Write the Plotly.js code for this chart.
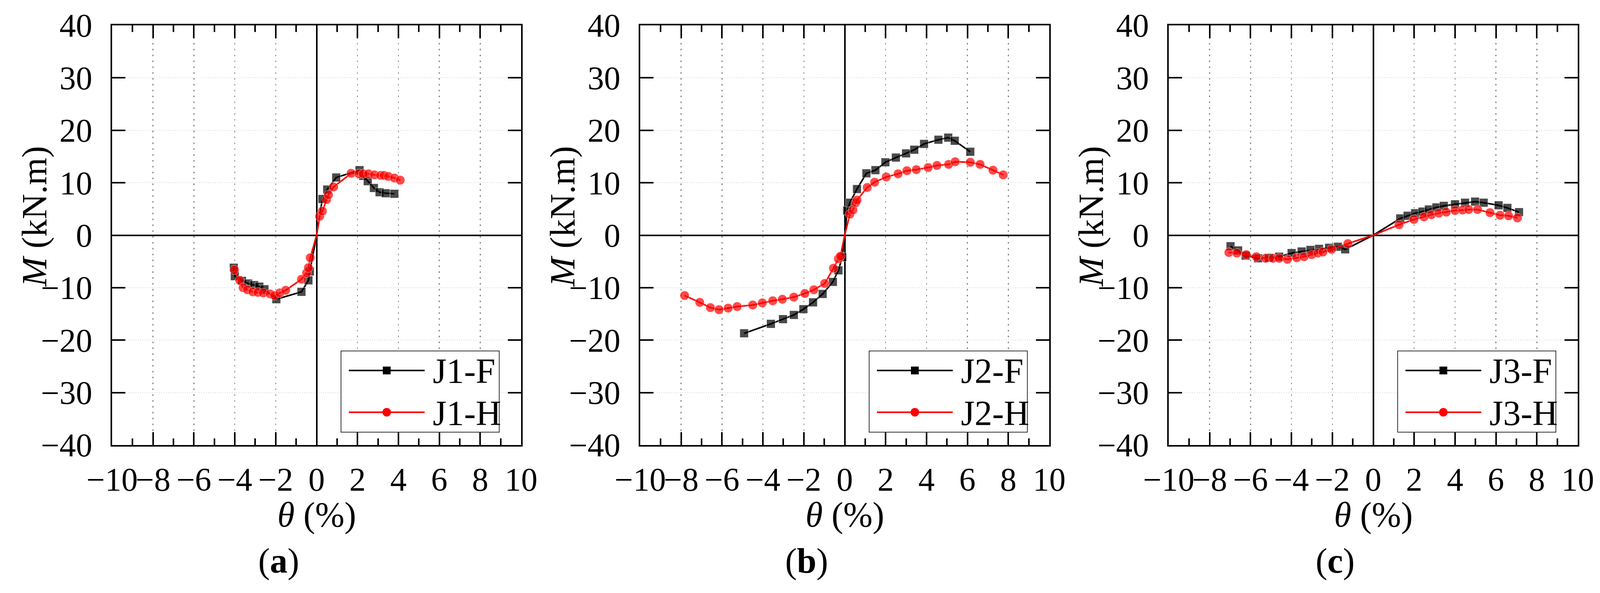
<!DOCTYPE html>
<html>
<head>
<meta charset="utf-8">
<script src="https://cdn.plot.ly/plotly-3.0.1.min.js"></script>
<style>
  html, body { margin: 0; padding: 0; background: #fff; }
  #chart { width: 4129px; height: 1519px; }
</style>
</head>
<body>
<div id="chart"></div>
<script>
// skeleton curves, theta in %, M in kN.m
var j1fTheta = [-4.05, -4.0, -3.65, -3.35, -3.05, -2.8, -2.55, -1.97, -0.74, -0.4, -0.33, 0, 0.28, 0.52, 0.96, 2.1, 2.28, 2.5, 2.8, 3.08, 3.38, 3.8];
var j1fM     = [-6.2, -7.8, -8.7, -9.2, -9.5, -9.8, -10.3, -12.2, -10.8, -8.6, -6.9, 0, 6.9, 8.7, 11.0, 12.4, 11.3, 10.3, 9.0, 8.2, 8.0, 7.9];

var j1hTheta = [-4.02, -3.76, -3.59, -3.38, -3.12, -2.87, -2.61, -2.27, -2.06, -1.8, -1.51, -0.74, -0.49, -0.4, -0.31, 0, 0.15, 0.28, 0.49, 0.58, 0.83, 1.69, 2.07, 2.28, 2.54, 2.83, 3.13, 3.3, 3.51, 3.81, 4.09];
var j1hM     = [-6.6, -8.6, -10.0, -10.4, -10.8, -10.9, -11.0, -11.2, -11.5, -11.0, -10.5, -8.4, -7.2, -6.2, -4.3, 0, 3.6, 4.6, 6.8, 7.7, 9.2, 11.8, 11.7, 11.7, 11.7, 11.5, 11.4, 11.4, 11.2, 10.9, 10.5];

var j2fTheta = [-4.92, -3.61, -3.02, -2.49, -2.02, -1.55, -1.08, -0.58, -0.31, -0.12, 0, 0.12, 0.25, 0.6, 1.06, 1.5, 1.99, 2.5, 3.0, 3.4, 3.88, 4.58, 5.06, 5.38, 6.14];
var j2fM     = [-18.7, -16.9, -16.0, -15.2, -14.1, -12.8, -11.2, -8.9, -6.7, -4.2, 0, 4.7, 6.2, 8.8, 11.8, 12.4, 13.9, 14.8, 15.6, 16.3, 17.4, 18.2, 18.6, 18.0, 15.9];

var j2hTheta = [-7.83, -7.09, -6.57, -6.15, -5.7, -5.26, -4.5, -4.03, -3.52, -3.05, -2.49, -1.95, -1.51, -0.98, -0.55, -0.31, -0.21, 0, 0.25, 0.4, 0.54, 0.6, 1.1, 1.46, 2.03, 2.61, 3.04, 3.5, 4.08, 4.51, 5.08, 5.4, 6.14, 6.62, 7.25, 7.75];
var j2hM     = [-11.5, -12.8, -13.8, -14.2, -13.9, -13.6, -13.3, -12.9, -12.5, -12.2, -11.8, -11.1, -10.4, -9.2, -6.3, -4.5, -4.0, 0, 4.0, 4.8, 6.2, 6.7, 9.1, 10.1, 11.1, 11.7, 12.3, 12.5, 12.9, 13.3, 13.5, 14.0, 13.9, 13.5, 12.4, 11.5];

var j3fTheta = [-6.98, -6.61, -6.24, -5.63, -5.1, -4.6, -3.99, -3.5, -3.07, -2.65, -2.16, -1.73, -1.37, 0, 1.32, 1.68, 2.05, 2.41, 2.72, 3.09, 3.45, 4.0, 4.49, 4.98, 5.4, 6.13, 6.56, 7.13];
var j3fM     = [-2.1, -2.9, -3.9, -4.4, -4.3, -4.1, -3.4, -3.1, -2.8, -2.6, -2.4, -2.2, -2.7, 0, 3.2, 3.7, 4.2, 4.5, 4.9, 5.3, 5.6, 5.9, 6.2, 6.4, 6.2, 5.7, 5.2, 4.4];

var j3hTheta = [-7.06, -6.67, -6.21, -5.72, -5.27, -4.9, -4.6, -4.2, -3.74, -3.38, -3.01, -2.71, -2.46, -2.04, -1.24, 0, 1.26, 1.99, 2.48, 2.84, 3.21, 3.57, 4.0, 4.37, 4.67, 5.1, 5.71, 6.2, 6.62, 7.05];
var j3hM     = [-3.3, -3.4, -3.7, -4.1, -4.4, -4.4, -4.4, -4.6, -4.3, -4.1, -3.7, -3.4, -3.2, -2.7, -1.6, 0, 2.0, 3.0, 3.5, 3.9, 4.2, 4.4, 4.7, 4.8, 4.9, 4.9, 4.3, 3.8, 3.7, 3.3];

var panelNames = ['J1', 'J2', 'J3'];
var panelLetters = ['a', 'b', 'c'];

var W = 4129, H = 1519;
var FONT = 'Liberation Serif';

// pixel -> paper helpers
function px(x) { return x / W; }
function py(y) { return 1 - y / H; }

// plot frames, in pixels of the reference
var plotLeft = [287, 1639, 2992];
var plotW = 1047;
var plotTop = 65, plotBottom = 1140;

function markerSizes(xs, s) {
  // no marker at the origin, the line just passes through it
  return xs.map(function (v) { return v === 0 ? 0 : s; });
}

var series = [
  [j1fTheta, j1fM, j1hTheta, j1hM],
  [j2fTheta, j2fM, j2hTheta, j2hM],
  [j3fTheta, j3fM, j3hTheta, j3hM]
];

var data = [];
var layout = {
  width: W, height: H,
  margin: {l: 0, r: 0, t: 0, b: 0},
  paper_bgcolor: '#fff', plot_bgcolor: '#fff',
  showlegend: false,
  font: {family: FONT, color: '#000'},
  shapes: [], annotations: []
};

series.forEach(function (s, i) {
  var sfx = i === 0 ? '' : String(i + 1);
  var dx = plotLeft[i] - plotLeft[0];

  data.push({
    x: s[0], y: s[1], name: panelNames[i] + '-F',
    xaxis: 'x' + sfx, yaxis: 'y' + sfx,
    type: 'scatter', mode: 'lines+markers',
    line: {color: '#000', width: 4},
    marker: {symbol: 'square', color: '#000', size: markerSizes(s[0], 22)}
  });
  data.push({
    x: s[2], y: s[3], name: panelNames[i] + '-H',
    xaxis: 'x' + sfx, yaxis: 'y' + sfx,
    type: 'scatter', mode: 'lines+markers',
    line: {color: '#ff0000', width: 4},
    marker: {symbol: 'circle', color: '#ff0000', size: markerSizes(s[2], 24)}
  });

  layout['xaxis' + sfx] = {
    domain: [px(plotLeft[i]), px(plotLeft[i] + plotW)],
    anchor: 'y' + sfx,
    range: [-10, 10], tickmode: 'linear', tick0: 0, dtick: 2,
    ticks: 'inside', ticklen: 33, tickwidth: 4, tickcolor: '#000',
    minor: {tick0: 0, dtick: 1, ticks: 'inside', ticklen: 17, tickwidth: 4, tickcolor: '#000', showgrid: false},
    showline: true, linewidth: 4, linecolor: '#000', mirror: 'ticks',
    showgrid: true, gridcolor: '#8a8a8a', gridwidth: 2.5, griddash: '4px,11px',
    zeroline: true, zerolinecolor: '#000', zerolinewidth: 4,
    tickangle: 0,
    tickfont: {family: FONT, size: 84, color: '#000'},
    ticklabelstandoff: 12,
    fixedrange: true
  };
  layout['yaxis' + sfx] = {
    domain: [py(plotBottom), py(plotTop)],
    anchor: 'x' + sfx,
    range: [-40, 40], tickmode: 'linear', tick0: 0, dtick: 10,
    ticks: 'inside', ticklen: 34, tickwidth: 4, tickcolor: '#000',
    showline: true, linewidth: 4, linecolor: '#000', mirror: 'ticks',
    showgrid: true, gridcolor: '#d6d6d6', gridwidth: 2, griddash: '2px,4px',
    zeroline: true, zerolinecolor: '#000', zerolinewidth: 4,
    tickangle: 0,
    tickfont: {family: FONT, size: 84, color: '#000'},
    ticklabelstandoff: 30,
    fixedrange: true
  };

  // axis titles and panel letter
  layout.annotations.push({
    xref: 'paper', yref: 'paper', x: px(89 + dx), y: py(555),
    xanchor: 'center', yanchor: 'middle', textangle: -90, showarrow: false,
    text: '<i>M</i> (kN.m)', font: {family: FONT, size: 90, color: '#000'}
  });
  layout.annotations.push({
    xref: 'paper', yref: 'paper', x: px(plotLeft[i] + plotW / 2), y: py(1319),
    xanchor: 'center', yanchor: 'middle', showarrow: false,
    text: '<i>θ</i> (%)', font: {family: FONT, size: 90, color: '#000'}
  });
  layout.annotations.push({
    xref: 'paper', yref: 'paper', x: px(713 + dx), y: py(1437),
    xanchor: 'center', yanchor: 'middle', showarrow: false,
    text: '(<b>' + panelLetters[i] + '</b>)', font: {family: FONT, size: 90, color: '#000'}
  });

  // legend box drawn by hand so the sample lines can be long
  var lx0 = 873 + dx, lx1 = 1278 + dx, ly0 = 899, ly1 = 1107;
  var rows = [949, 1056];
  layout.shapes.push({
    type: 'rect', xref: 'paper', yref: 'paper',
    x0: px(lx0), x1: px(lx1), y0: py(ly1), y1: py(ly0),
    line: {color: '#333', width: 2}, fillcolor: '#fff', layer: 'above'
  });
  var colors = ['#000', '#ff0000'];
  rows.forEach(function (ry, k) {
    layout.shapes.push({
      type: 'line', xref: 'paper', yref: 'paper',
      x0: px(893 + dx), x1: px(1087 + dx), y0: py(ry), y1: py(ry),
      line: {color: colors[k], width: 4}, layer: 'above'
    });
    var half = k === 0 ? 10 : 11;
    layout.shapes.push({
      type: k === 0 ? 'rect' : 'circle', xref: 'paper', yref: 'paper',
      x0: px(990 + dx - half), x1: px(990 + dx + half),
      y0: py(ry + half), y1: py(ry - half),
      line: {width: 0}, fillcolor: colors[k], layer: 'above'
    });
    layout.annotations.push({
      xref: 'paper', yref: 'paper', x: px(1106 + dx), y: py(ry + 2),
      xanchor: 'left', yanchor: 'middle', showarrow: false,
      text: panelNames[i] + (k === 0 ? '-F' : '-H'),
      font: {family: FONT, size: 90, color: '#000'}
    });
  });
});

Plotly.newPlot('chart', data, layout, {staticPlot: true, displayModeBar: false});
</script>
</body>
</html>
